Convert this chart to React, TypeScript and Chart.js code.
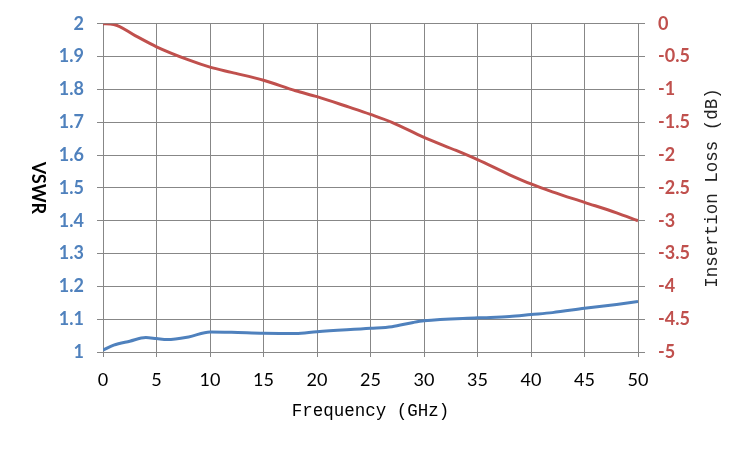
import { useEffect, useRef } from 'react';
import { Chart, registerables } from 'chart.js';

Chart.register(...registerables);

// Insertion loss (dB) vs frequency (GHz)
const ilFreq = [0, 1, 3, 5, 8, 10, 12, 15, 18, 20, 23, 25, 27, 30, 33, 35, 38, 40, 42, 45, 48, 50];
const ilValues = [0, -0.01, -0.18, -0.35, -0.55, -0.66, -0.74, -0.86, -1.02, -1.11, -1.27, -1.38, -1.5, -1.73, -1.93, -2.07, -2.3, -2.44, -2.56, -2.72, -2.88, -3.0];

// VSWR vs frequency (GHz)
const vswrFreq = [0, 1, 2.5, 4, 5, 6, 8, 10, 12, 15, 18, 20, 25, 27, 29, 30, 35, 38, 40, 42, 45, 48, 50];
const vswrValues = [1.006, 1.021, 1.033, 1.044, 1.041, 1.038, 1.046, 1.061, 1.06, 1.057, 1.056, 1.062, 1.072, 1.077, 1.09, 1.095, 1.104, 1.108, 1.114, 1.12, 1.133, 1.145, 1.154];

const xTitle = 'Frequency (GHz)';
const leftTitle = 'VSWR';
const rightTitle = 'Insertion Loss (dB)';

const BLUE = '#4F81BD';
const RED = '#C0504D';
const GRID = '#878787';
const TITLE_FONT = '"Liberation Mono", "Courier New", "DejaVu Serif", serif';

const titlePlugin = {
  id: 'axisTitles',
  afterDraw(chart: Chart) {
    const { ctx, chartArea } = chart;
    const midY = (chartArea.top + chartArea.bottom) / 2;
    ctx.save();
    ctx.fillStyle = '#000';
    ctx.textAlign = 'center';
    ctx.textBaseline = 'middle';

    ctx.font = `17.5px ${TITLE_FONT}`;
    ctx.fillText(xTitle, (chartArea.left + chartArea.right) / 2, 411);

    ctx.save();
    ctx.translate(38, midY);
    ctx.rotate(Math.PI / 2);
    ctx.font = 'bold 18px Lato';
    ctx.fillText(leftTitle, 0, 0);
    ctx.restore();

    ctx.save();
    ctx.translate(712, midY);
    ctx.rotate(-Math.PI / 2);
    ctx.font = `17.5px ${TITLE_FONT}`;
    ctx.fillStyle = '#222';
    ctx.fillText(rightTitle, 0, 0);
    ctx.restore();

    ctx.restore();
  },
};

export default function App() {
  const chartRef = useRef<HTMLCanvasElement>(null);
  const chartInstance = useRef<Chart | null>(null);

  useEffect(() => {
    document.body.style.margin = '0';
    if (!chartRef.current) return;
    if (chartInstance.current) chartInstance.current.destroy();
    const ctx = chartRef.current.getContext('2d');
    if (!ctx) return;

    chartInstance.current = new Chart(ctx, {
      type: 'line',
      data: {
        datasets: [
          {
            label: 'Insertion Loss',
            data: ilFreq.map((f, i) => ({ x: f, y: ilValues[i] })),
            borderColor: RED,
            borderWidth: 3,
            pointRadius: 0,
            tension: 0.4,
            cubicInterpolationMode: 'monotone',
            yAxisID: 'yIL',
          },
          {
            label: 'VSWR',
            data: vswrFreq.map((f, i) => ({ x: f, y: vswrValues[i] })),
            borderColor: BLUE,
            borderWidth: 3,
            pointRadius: 0,
            tension: 0.4,
            cubicInterpolationMode: 'monotone',
            yAxisID: 'yVSWR',
          },
        ],
      },
      options: {
        responsive: false,
        animation: false,
        layout: { padding: { top: 23 } },
        plugins: {
          legend: { display: false },
          tooltip: { enabled: false },
        },
        scales: {
          x: {
            type: 'linear',
            min: 0,
            max: 50,
            ticks: {
              stepSize: 5,
              color: '#000',
              padding: 12,
              font: { family: 'Lato', size: 18 },
            },
            grid: { color: GRID, tickLength: 5, tickColor: GRID },
            border: { color: GRID },
            afterFit: (scale: any) => {
              scale.height = 98;
            },
          },
          yVSWR: {
            type: 'linear',
            position: 'left',
            min: 1,
            max: 2,
            ticks: {
              stepSize: 0.1,
              color: BLUE,
              padding: 13,
              font: { family: 'Lato', size: 18, weight: 'bold' },
              callback: (v: any) => String(Math.round(Number(v) * 10) / 10),
            },
            grid: { color: GRID, tickLength: 6, tickColor: GRID },
            border: { color: GRID },
            afterFit: (scale: any) => {
              scale.width = 103;
            },
          },
          yIL: {
            type: 'linear',
            position: 'right',
            min: -5,
            max: 0,
            ticks: {
              stepSize: 0.5,
              color: RED,
              padding: 13,
              font: { family: 'Lato', size: 18, weight: 'bold' },
              callback: (v: any) => String(Math.round(Number(v) * 10) / 10),
            },
            grid: { drawOnChartArea: false, tickLength: 7, tickColor: GRID },
            border: { color: GRID },
            afterFit: (scale: any) => {
              scale.width = 112;
            },
          },
        },
      },
      plugins: [titlePlugin],
    });

    return () => {
      if (chartInstance.current) {
        chartInstance.current.destroy();
        chartInstance.current = null;
      }
    };
  }, []);

  return (
    <div style={{ width: 750, height: 450 }}>
      <canvas ref={chartRef} width={750} height={450} />
    </div>
  );
}
